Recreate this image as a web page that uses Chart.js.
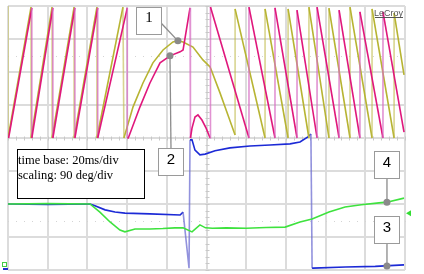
<!DOCTYPE html>
<html>
<head>
<meta charset="utf-8">
<script src="https://cdn.jsdelivr.net/npm/chart.js@4/dist/chart.umd.min.js"></script>
<style>
  html, body { margin: 0; padding: 0; background: #fff; }
  #wrap { width: 424px; height: 274px; position: relative; }
</style>
</head>
<body>
<div id="wrap"><canvas id="scope"></canvas></div>
<script>
/* global Chart */

// time in ms (20 ms/div), values in deg (90 deg/div)
const yellowT = [0, 0, 11.6, 11.6, 22.2, 22.2, 33.3, 33.3, 44.8, 44.8, 57.9, 58.4, 63, 68, 73, 78.1, 83.1, 85.6, 88.2, 93.2, 98.2, 101.8, 102.8, 106.8, 110.8, 114.4, 114.4, 129.5, 129.5, 141.1, 141.1, 151.6, 151.6, 161.7, 161.7, 172.3, 172.3, 183.4, 183.4, 194.5, 194.5, 199.5];
const yellowDeg = [360, 0, 357, 0, 357, 0, 357, 0, 357, 0, 357, 0, 85, 150, 205, 240, 262, 265, 262, 248, 213, 194, 180, 123, 63, 8, 352, 0, 352, 0, 352, 0, 357, 0, 354, 0, 357, 0, 352, 0, 341, 172];

const magentaT = [0.3, 12, 12, 22.6, 22.6, 33.7, 33.7, 45.2, 45.2, 60.1, 60.1, 60.6, 66.5, 71.5, 76.6, 81.6, 86.7, 88.2, 91.7, 91.9, 92.7, 94.2, 95.7, 97.7, 99.8, 101.8, 102, 121.4, 121.4, 134.5, 134.5, 145.6, 145.6, 155.7, 155.7, 166.8, 166.8, 177.3, 177.3, 188.9, 188.9, 199.5];
const magentaDeg = [0, 355, 0, 355, 0, 355, 0, 355, 0, 355, 0, 0, 85, 150, 205, 224, 235, 240, 355, 0, 27, 57, 63, 49, 27, 0, 357, 0, 357, 0, 355, 0, 349, 0, 357, 0, 349, 0, 344, 0, 344, 16];

const blueT = [0, 20, 41.3, 43.8, 48.9, 53.9, 58.9, 71.5, 86.7, 88.2, 91.2, 91.7, 92.7, 94.2, 96.7, 99.3, 104.3, 111.8, 121.9, 132, 142.1, 147.1, 151.1, 152.6, 153.2, 153.7, 170, 185, 199.5];
const blueDeg = [-180, -181, -180, -185, -196, -202, -205, -207, -210, -202, -355, -5, -5, -33, -46, -44, -35, -27, -22, -19, -16, -11, 3, 11, -355, -355, -352, -350, -346];

const greenT = [0, 20, 41.3, 46.3, 51.4, 56.4, 58.9, 64, 71.5, 78, 84.1, 88.2, 92.7, 96.7, 99.5, 103, 110, 120, 130, 139.6, 147.1, 153.2, 161.7, 169.8, 178, 186.9, 190.9, 199.5];
const greenDeg = [-180, -179, -180, -202, -229, -251, -256, -248, -248, -247, -245, -245, -256, -237, -245, -246, -245, -246, -244, -243, -229, -221, -202, -188, -182, -177, -175, -164];

const markerLabels = ["1", "2", "4", "3"];
const markerT = [85.6, 81.6, 190.9, 190.9];
const markerDeg = [265, 224, -175, -349];

const infoLines = ["time base: 20ms/div", "scaling: 90 deg/div"];

const toPoints = (ts, vs) => ts.map((t, i) => ({ x: t, y: vs[i] }));

// fast edges are drawn faint, like the scope does
const edgeColor = (line, faint) => (ctx) => {
  const dx = Math.abs(ctx.p1.x - ctx.p0.x);
  const dy = Math.abs(ctx.p1.y - ctx.p0.y);
  return dy > 7 * Math.max(dx, 0.01) ? faint : line;
};

const trace = (label, ts, vs, line, faint) => ({
  label,
  data: toPoints(ts, vs),
  borderColor: line,
  borderWidth: 1.6,
  pointRadius: 0,
  tension: 0,
  segment: { borderColor: edgeColor(line, faint) },
});

const scopeDecor = {
  id: "scopeDecor",
  beforeDatasetsDraw(chart) {
    const { ctx, chartArea: a, scales } = chart;
    const x = scales.x;
    const y = scales.y;
    ctx.save();
    ctx.strokeStyle = "#dcdcdc";
    ctx.lineWidth = 2;
    for (let t = 0; t <= 200; t += 20) {
      const px = Math.round(x.getPixelForValue(t));
      ctx.beginPath();
      ctx.moveTo(px, a.top);
      ctx.lineTo(px, a.bottom);
      ctx.stroke();
    }
    for (let d = -360; d <= 360; d += 90) {
      const py = Math.round(y.getPixelForValue(d));
      ctx.beginPath();
      ctx.moveTo(a.left, py);
      ctx.lineTo(a.right, py);
      ctx.stroke();
    }
    // minor ticks on the centre axes
    ctx.strokeStyle = "#c8c8c8";
    ctx.lineWidth = 1;
    const cy = Math.round(y.getPixelForValue(0)) + 0.5;
    for (let t = 0; t <= 200; t += 4) {
      const px = Math.round(x.getPixelForValue(t)) + 0.5;
      ctx.beginPath();
      ctx.moveTo(px, cy - 2);
      ctx.lineTo(px, cy + 2);
      ctx.stroke();
    }
    const cx = Math.round(x.getPixelForValue(100)) + 0.5;
    for (let d = -360; d <= 360; d += 18) {
      const py = Math.round(y.getPixelForValue(d)) + 0.5;
      ctx.beginPath();
      ctx.moveTo(cx - 2, py);
      ctx.lineTo(cx + 2, py);
      ctx.stroke();
    }
    // faint dotted rows
    ctx.fillStyle = "#d4d4d4";
    for (const d of [225, -225]) {
      const py = Math.round(y.getPixelForValue(d));
      for (let t = 0; t <= 200; t += 4) {
        ctx.fillRect(Math.round(x.getPixelForValue(t)), py, 1, 1);
      }
    }
    ctx.restore();
  },
  afterDatasetsDraw(chart) {
    const { ctx, chartArea: a, scales } = chart;
    const x = scales.x;
    const y = scales.y;
    ctx.save();

    // channel offset marker and ground icons
    ctx.fillStyle = "#33dd33";
    const gy = y.getPixelForValue(-205);
    ctx.beginPath();
    ctx.moveTo(a.right + 1, gy);
    ctx.lineTo(a.right + 6, gy - 3);
    ctx.lineTo(a.right + 6, gy + 3);
    ctx.closePath();
    ctx.fill();
    ctx.strokeStyle = "#44cc44";
    ctx.lineWidth = 1;
    ctx.strokeRect(2.5, a.bottom - 7.5, 4, 4);
    ctx.fillStyle = "#2233cc";
    ctx.fillRect(3, a.bottom - 2, 5, 2);

    // numbered callouts
    const boxes = [
      { dx: -42, dy: -34, link: "side" },
      { dx: -12, dy: 92, link: "below" },
      { dx: -13, dy: -51, link: "above" },
      { dx: -13, dy: -50, link: "above" },
    ];
    markerLabels.forEach((lab, i) => {
      const px = x.getPixelForValue(markerT[i]);
      const py = y.getPixelForValue(markerDeg[i]);
      const b = boxes[i];
      const bx = Math.round(px + b.dx) + 0.5;
      const by = Math.round(py + b.dy) + 0.5;
      const bw = 25;
      const bh = 27;
      ctx.strokeStyle = "#8c8c8c";
      ctx.lineWidth = 1.3;
      ctx.beginPath();
      if (b.link === "side") {
        ctx.moveTo(bx + bw, by + 16);
      } else if (b.link === "below") {
        ctx.moveTo(bx + bw / 2, by);
      } else {
        ctx.moveTo(bx + bw / 2, by + bh);
      }
      ctx.lineTo(px, py);
      ctx.stroke();
      ctx.fillStyle = "#fff";
      ctx.fillRect(bx, by, bw, bh);
      ctx.strokeStyle = "#9a9a9a";
      ctx.lineWidth = 1;
      ctx.strokeRect(bx, by, bw, bh);
      ctx.fillStyle = "#8a8a8a";
      ctx.beginPath();
      ctx.arc(px, py, 3.5, 0, Math.PI * 2);
      ctx.fill();
      ctx.fillStyle = "#000";
      ctx.font = i === 0 ? "15px 'Liberation Serif'" : "15px 'Liberation Sans'";
      ctx.textAlign = "center";
      ctx.textBaseline = "middle";
      ctx.fillText(lab, bx + bw / 2, by + 11);
    });

    // info box
    ctx.fillStyle = "#fff";
    ctx.fillRect(17.5, 149.5, 127, 49);
    ctx.strokeStyle = "#000";
    ctx.lineWidth = 1;
    ctx.strokeRect(17.5, 149.5, 127, 49);
    ctx.fillStyle = "#000";
    ctx.font = "12.5px 'Liberation Serif'";
    ctx.textAlign = "left";
    ctx.textBaseline = "alphabetic";
    ctx.fillText(infoLines[0], 18, 164);
    ctx.fillText(infoLines[1], 18, 179);

    // brand tag
    ctx.font = "9px 'Liberation Sans'";
    ctx.fillStyle = "#555";
    ctx.textAlign = "right";
    ctx.fillText("LeCroy", a.right - 2, a.top + 10);
    ctx.fillRect(a.right - 30, a.top + 11, 28, 1);
    ctx.restore();
  },
};

// eslint-disable-next-line no-new
new Chart(document.getElementById("scope"), {
  type: "line",
  plugins: [scopeDecor],
  data: {
    datasets: [
      trace("Ch 2", magentaT, magentaDeg, "#e0177c", "rgba(215,110,195,0.75)"),
      trace("Ch 1", yellowT, yellowDeg, "#b7b432", "rgba(190,185,70,0.6)"),
      trace("Ch 4", greenT, greenDeg, "#3ee23e", "rgba(100,220,100,0.6)"),
      trace("Ch 3", blueT, blueDeg, "#1c2ad6", "rgba(110,110,210,0.75)"),
    ],
  },
  options: {
    animation: false,
    responsive: true,
    maintainAspectRatio: false,
    layout: { padding: { left: 8, right: 19, top: 6, bottom: 4 } },
    plugins: {
      legend: { display: false },
      tooltip: { enabled: false },
    },
    scales: {
      x: { type: "linear", min: 0, max: 200, display: false },
      y: { type: "linear", min: -360, max: 360, display: false },
    },
  },
});
</script>
</body>
</html>
